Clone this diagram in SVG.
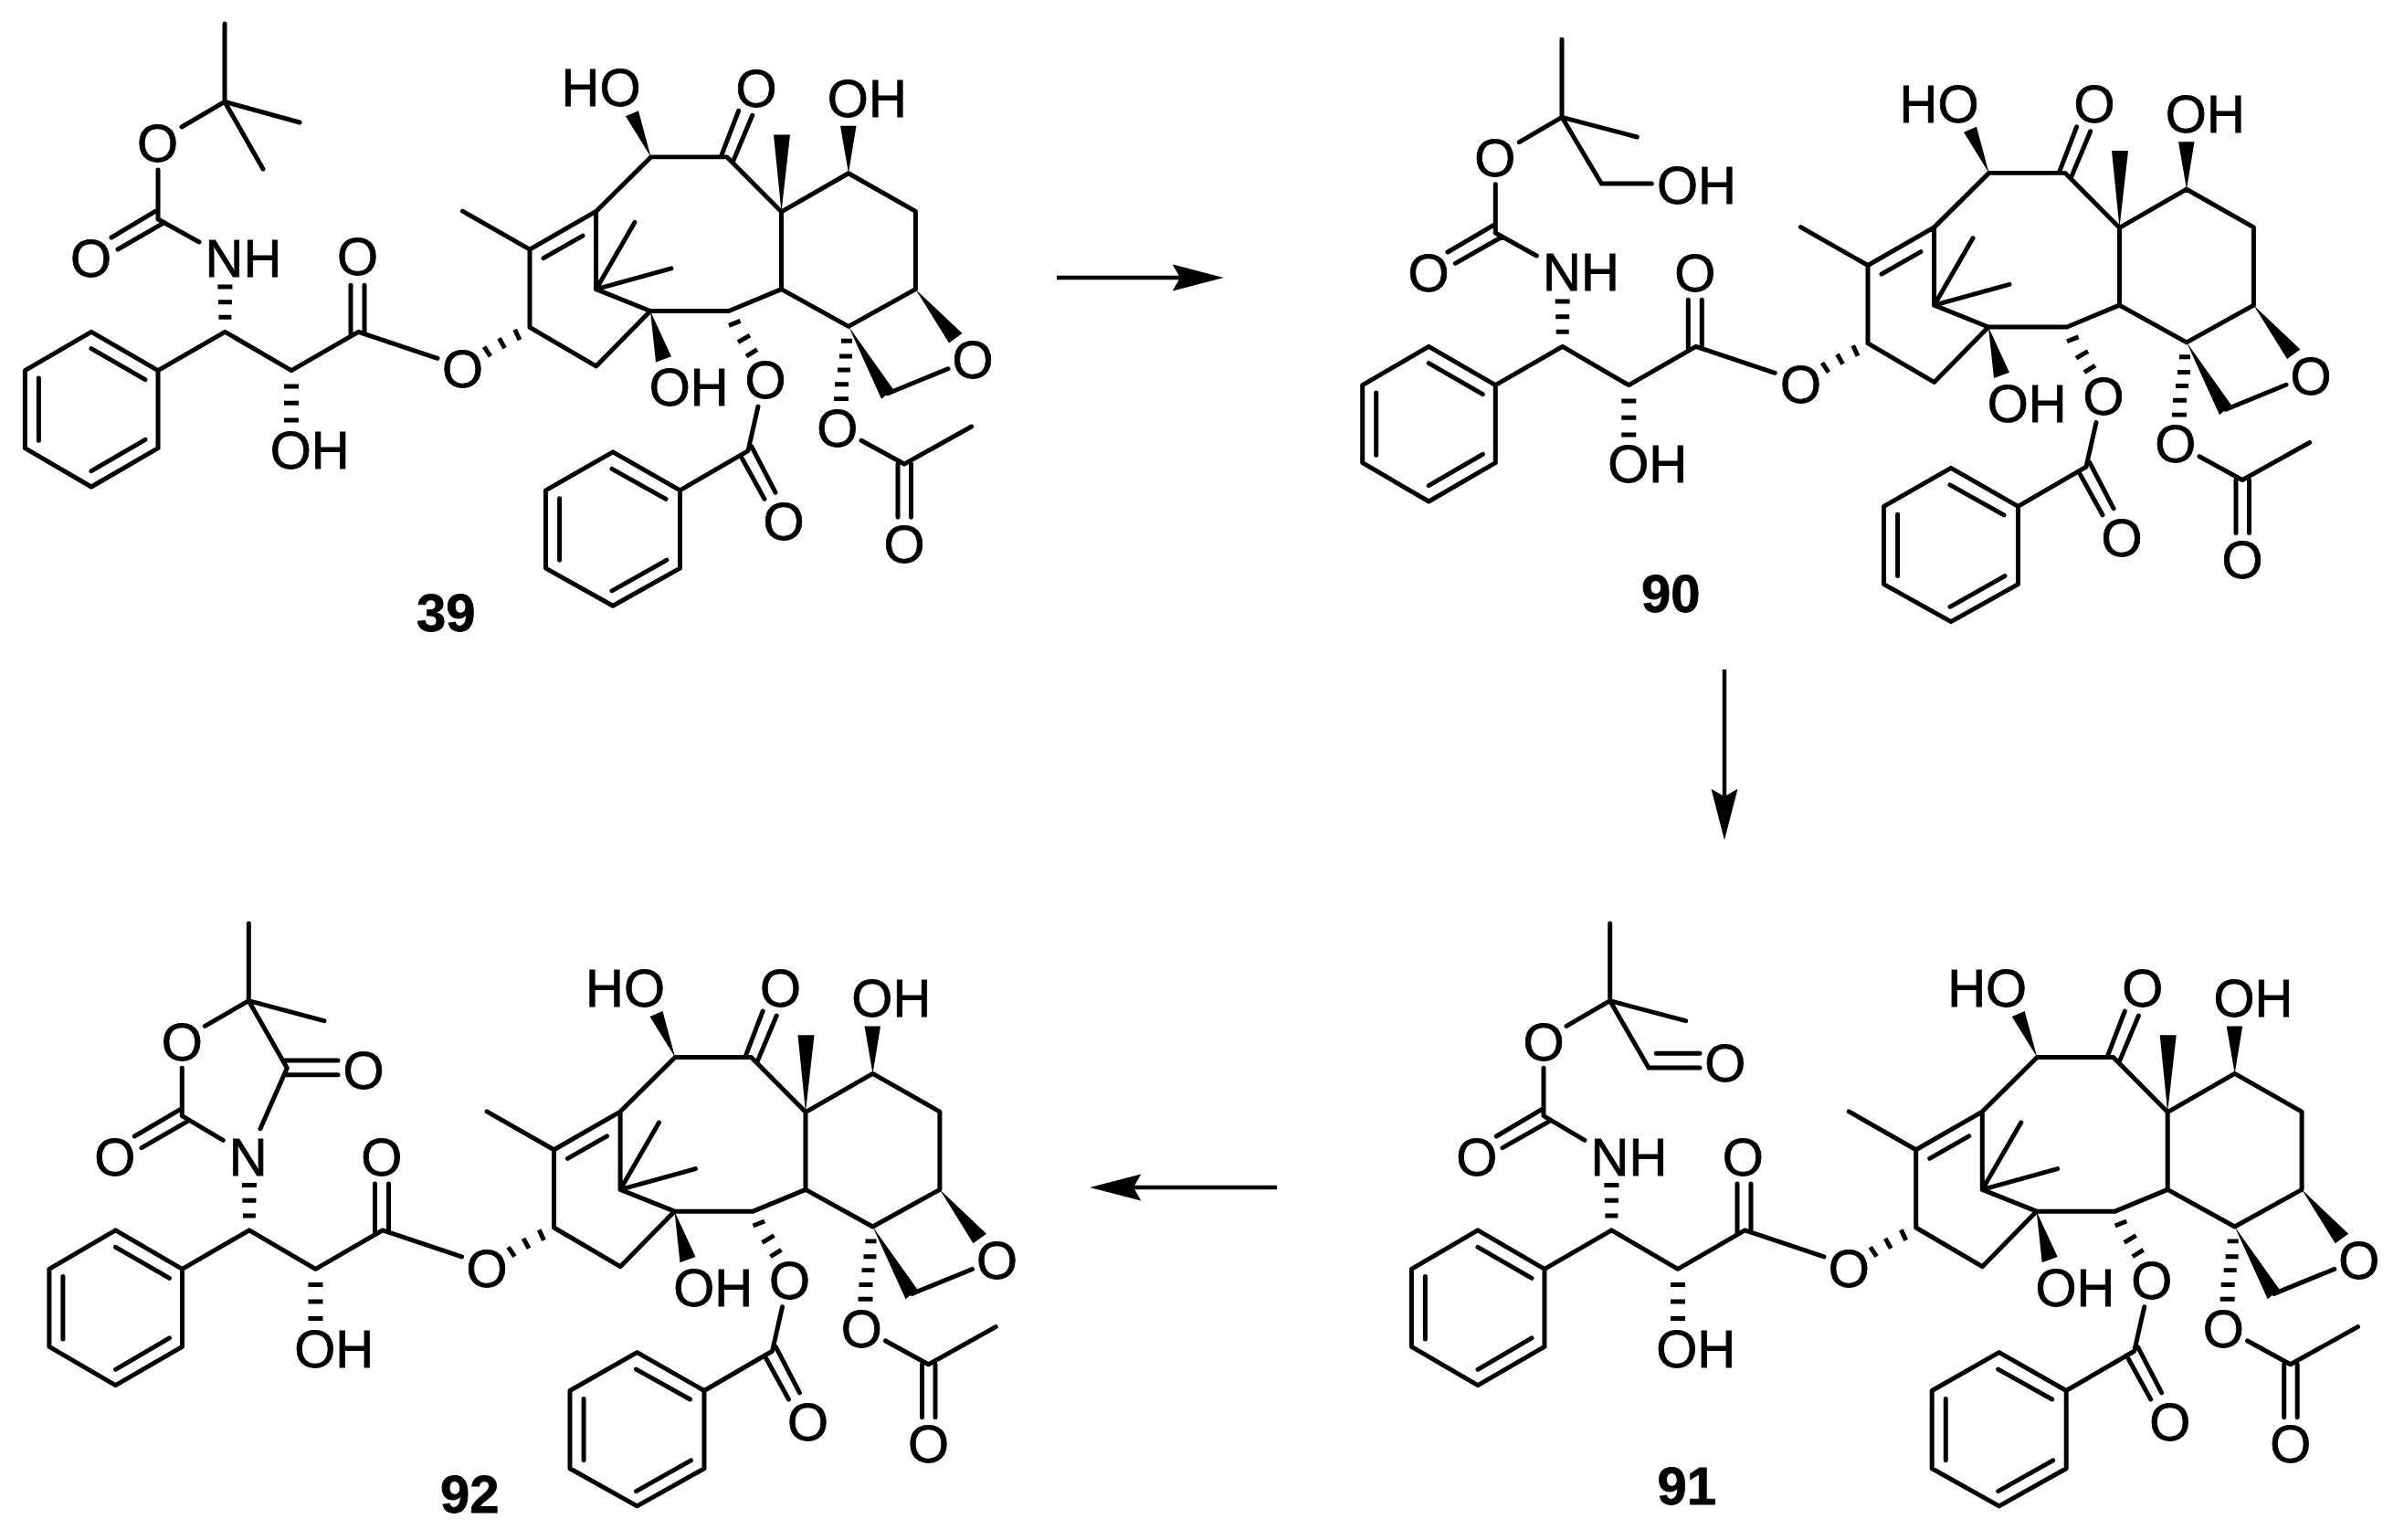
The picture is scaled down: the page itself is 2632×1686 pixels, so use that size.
<svg xmlns="http://www.w3.org/2000/svg" width="2632" height="1686" viewBox="0 0 2632 1686">
<style>
.bond{fill:none;stroke:#000;stroke-width:5;stroke-linecap:round;stroke-linejoin:round}
.hash{fill:none;stroke:#000;stroke-width:5;stroke-linecap:butt}
.wedge{fill:#000;stroke:none}
text{font-family:"Liberation Sans",Arial,sans-serif;font-size:58px;fill:#000;stroke:#000;stroke-width:.8}
.m{text-anchor:middle}
.n{font-weight:bold}
.arrow{fill:none;stroke:#000;stroke-width:4.4;marker-end:url(#head)}
</style>
<defs>
<marker id="head" markerUnits="userSpaceOnUse" markerWidth="56" markerHeight="30" viewBox="0 0 54 28" refX="8" refY="14" orient="auto"><path d="M0 0L54 14L0 28L8 14z" fill="#000"/></marker>
<g id="core">
<path class="bond" d="M506.5 232.8L580 275L652.6 233L712.6 173H796L855.5 233.5L929 191L1002.4 233V319L929 360L855.5 319V233.5M580 275V361L652.6 404L712 343L652.6 319V233M712 343H798L855.5 319M595 284.7L638 260M652.6 319L695 245M652.6 319L735 296M790 171L808.6 122M802.4 178.3L823.7 127M972 434L1038 406.8M830 448.5L819 497.4L744.5 541L671 498.7L597.5 541V627L671 668.5L744.5 627V541M812.6 506L837 550.6M823 493L849 543.4M670 517.4L729 550.6M612.6 550V618M670 652L730 618M943 486L990 512L1063.7 470.6M983 512V570.6M997.5 512V570.6"/>
<path class="hash" d="M563.7 363.4L569 375M546.5 373L552.6 384M530 382.6L537 393M798 359L810.6 354M808 377.4L821 369.8M817 393L829 385.5M921 376H933M919 393H933M917 408H931M914 424H929M913 440H929"/>
<path class="wedge" d="M712.6 173L699 122L685 128zM855.5 233.5L847 148.5H865zM929 191L920 138.7H937.5zM1002.4 319L1053.5 367.7L1039 378.3zM929 360L978 429.4L965 440zM712 343L718 399.6L735 393.2z"/>
</g>
<g id="chain">
<path class="bond" d="M173 408.7L100 366.3L27.4 408.7V493.7L100 536L173 493.7V408.7L246.4 366.3L319 408.7L392.4 366.3L479 395.3M100 384.7L159 418.7M42.4 417V485.3M100 518.7L159 484.3M384 315.3V368.7M399 315.3V368.7"/>
<path class="hash" d="M238.4 317H254.4M238.9 333.7H253.9M239.4 350.3H253.4M311 426H327M311 444.3H327M311 463H327"/>
</g>
</defs>
<rect width="2632" height="1686" fill="#fff"/>
<g id="connectors">
<path class="arrow" d="M1157 304H1292"/>
<path class="arrow" d="M1888 733V872"/>
<path class="arrow" d="M1398 1300H1241"/>
</g>
<g id="mol-39">
<use href="#core" transform="matrix(1 0 0 .9916 0 .34)"/><use href="#chain" transform="translate(0 -3)"/>
<path class="bond" d="M246 26V111.4L328 134M246 111.4L288 185M246 111.4L199 139M173 186V240L218 265M122 260L170 231.4M129 273L180 243.6"/>
<text class="m" x="172.6" y="176.8">O</text><text class="m" x="99.5" y="303">O</text><text x="224.6" y="302.5">NH</text><text class="m" x="391.5" y="301">O</text><text x="295.7" y="513">OH</text>
<g transform="matrix(1 0 0 .9916 0 .34)"><text x="614.5" y="117">HO</text><text class="m" x="828" y="117.4">O</text><text x="905.8" y="128.5">OH</text><text x="710.7" y="447.7">OH</text><text class="m" x="838" y="439.5">O</text><text class="m" x="858" y="596">O</text><text class="m" x="1065" y="417.4">O</text><text class="m" x="916.7" y="492.8">O</text><text class="m" x="990" y="620.4">O</text><text class="m" x="506.5" y="426.8">O</text></g>
<text class="n" x="456" y="691">39</text>
</g>
<g id="mol-90">
<use href="#core" transform="matrix(1 0 0 .9916 1465 17.83)"/><use href="#chain" transform="translate(1464.3 13)"/>
<path class="bond" d="M1710 43.3V128.3L1792.3 150M1710 128.3L1753.3 201H1808.3M1710 128.3L1663.3 155.7M1637.3 201.7V255L1682.3 280M1585 276L1635 246.7M1593.3 288.3L1645 259"/>
<text class="m" x="1636.7" y="193">O</text><text x="1813.9" y="223.3">OH</text><text class="m" x="1564" y="319">O</text><text x="1689" y="318.3">NH</text><text class="m" x="1855.8" y="319">O</text><text x="1760.2" y="528.3">OH</text>
<g transform="matrix(1 0 0 .9916 0 .48)"><text x="2079.5" y="134.5">HO</text><text class="m" x="2293" y="134.9">O</text><text x="2370.8" y="146">OH</text><text x="2175.7" y="465.2">OH</text><text class="m" x="2303" y="457">O</text><text class="m" x="2323" y="613.5">O</text><text class="m" x="2530" y="434.9">O</text><text class="m" x="2381.7" y="510.3">O</text><text class="m" x="2455" y="637.9">O</text><text class="m" x="1971.5" y="444.3">O</text></g>
<text class="n" x="1797" y="670">90</text>
</g>
<g id="mol-91">
<use href="#core" transform="matrix(1 0 0 .9916 1517.7 986.04)"/><use href="#chain" transform="translate(1518 980.6)"/>
<path class="bond" d="M1762.7 1011V1095.7L1845.7 1117.7M1762.7 1095.7L1805 1169H1861M1813.3 1153.3H1861M1762.7 1095.7L1715 1123.3M1690 1169.3V1221.7L1735 1248.3M1638.3 1244L1688.3 1214.3M1645 1256.7L1696.7 1227.3"/>
<text class="m" x="1690" y="1160.8">O</text><text class="m" x="1888.7" y="1184">O</text><text class="m" x="1616.7" y="1287">O</text><text x="1741.6" y="1286.7">NH</text><text class="m" x="1908.3" y="1287">O</text><text x="1813.2" y="1496.7">OH</text>
<g transform="matrix(1 0 0 .9916 0 8.6)"><text x="2132.2" y="1102.7">HO</text><text class="m" x="2345.7" y="1103.1">O</text><text x="2423.5" y="1114.2">OH</text><text x="2228.4" y="1433.4">OH</text><text class="m" x="2355.7" y="1425.2">O</text><text class="m" x="2375.7" y="1581.7">O</text><text class="m" x="2582.7" y="1403.1">O</text><text class="m" x="2434.4" y="1478.5">O</text><text class="m" x="2507.7" y="1606.1">O</text><text class="m" x="2024.2" y="1412.5">O</text></g>
<text class="n" x="1814.4" y="1646.7">91</text>
</g>
<g id="mol-92">
<use href="#core" transform="matrix(1 0 0 .9916 26.5 986.04)"/><use href="#chain" transform="translate(26.5 980.6)"/>
<path class="bond" d="M272.3 1011V1095.7L355 1117.7M272.3 1095.7L224.3 1123.3M272.3 1095.7L314.3 1169.3L285 1235.7M199.3 1169.3V1221.7L244.3 1248.3M147.3 1244L197.7 1214.3M155 1256.7L205.7 1227.3M312.3 1161H370M312.3 1176.7H370"/>
<text class="m" x="199.3" y="1160.8">O</text><text class="m" x="398" y="1191.5">O</text><text class="m" x="125.7" y="1287">O</text><text class="m" x="271.7" y="1286.7">N</text><text class="m" x="417.7" y="1287">O</text><text x="322.2" y="1496.7">OH</text>
<g transform="matrix(1 0 0 .9916 0 8.6)"><text x="641" y="1102.7">HO</text><text class="m" x="854.5" y="1103.1">O</text><text x="932.3" y="1114.2">OH</text><text x="737.2" y="1433.4">OH</text><text class="m" x="864.5" y="1425.2">O</text><text class="m" x="884.5" y="1581.7">O</text><text class="m" x="1091.5" y="1403.1">O</text><text class="m" x="943.2" y="1478.5">O</text><text class="m" x="1016.5" y="1606.1">O</text><text class="m" x="533" y="1412.5">O</text></g>
<text class="n" x="482" y="1656">92</text>
</g>
</svg>
